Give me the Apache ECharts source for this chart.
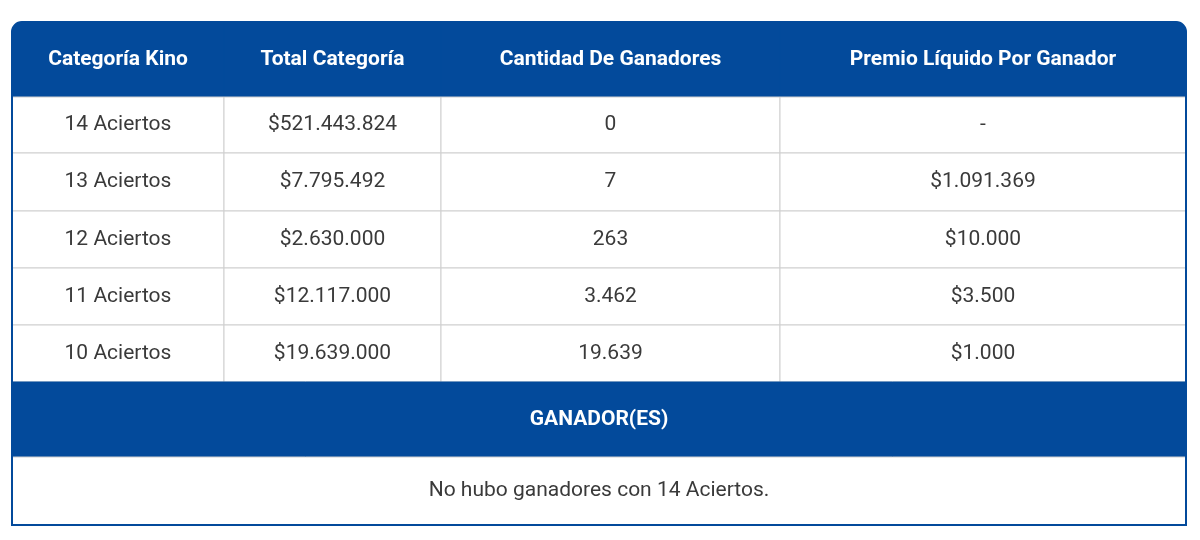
<!DOCTYPE html><html><head><meta charset="utf-8">
<script src="https://cdn.jsdelivr.net/npm/echarts@6/dist/echarts.min.js"></script>
<style>html,body{margin:0;background:#fff}#c{width:1200px;height:540px}</style></head><body><div id="c"></div>
<script>
const headers = ["Categoría Kino","Total Categoría","Cantidad De Ganadores","Premio Líquido Por Ganador"];
const categories = ["14 Aciertos","13 Aciertos","12 Aciertos","11 Aciertos","10 Aciertos"];
const totals = ["$521.443.824","$7.795.492","$2.630.000","$12.117.000","$19.639.000"];
const winners = ["0","7","263","3.462","19.639"];
const prizes = ["-","$1.091.369","$10.000","$3.500","$1.000"];
const sectionTitle = "GANADOR(ES)";
const footerText = "No hubo ganadores con 14 Aciertos.";

// layout (pixel units on hidden value axes)
const colEdges = [0, 212, 429, 768, 1174];
const rowEdges = [0, 75, 131, 189, 246, 303, 360, 435, 503];
const BLUE = "#034a9b", GRID = "#cfcfcf", TXT = "#3a3a3a";

const cells = [];
headers.forEach((h,i)=>cells.push({c0:i,c1:i+1,r:0,t:h,kind:"head"}));
for(let r=0;r<categories.length;r++){
  [categories[r],totals[r],winners[r],prizes[r]].forEach((t,i)=>cells.push({c0:i,c1:i+1,r:r+1,t,kind:"body"}));
}
cells.push({c0:0,c1:4,r:6,t:sectionTitle,kind:"head"});
cells.push({c0:0,c1:4,r:7,t:footerText,kind:"body"});

const chart = echarts.init(document.getElementById('c'));
chart.setOption({
  animation:false,
  grid:{left:12,right:14,top:22,bottom:15},
  xAxis:{type:'value',min:0,max:1174,show:false},
  yAxis:{type:'value',min:0,max:503,inverse:true,show:false},
  series:[{
    type:'custom',
    data:cells.map((d,i)=>[i]),
    renderItem:(params,api)=>{
      const d = cells[api.value(0)];
      const p0 = api.coord([colEdges[d.c0], rowEdges[d.r]]);
      const p1 = api.coord([colEdges[d.c1], rowEdges[d.r+1]]);
      const head = d.kind==="head";
      const r = (d.r===0 && d.c0===0) ? [10,0,0,0] : (d.r===0 && d.c1===4) ? [0,10,0,0] : 0;
      return {type:'group',children:[
        {type:'rect',shape:{x:p0[0],y:p0[1],width:p1[0]-p0[0],height:p1[1]-p0[1],r},
         style:{fill:head?BLUE:'#fff',stroke:head?BLUE:GRID,lineWidth:1}},
        {type:'text',x:(p0[0]+p1[0])/2,y:(p0[1]+p1[1])/2,
         style:{text:d.t,align:'center',verticalAlign:'middle',fill:head?'#fff':TXT,
           font:(head?'bold ':'')+'21px Roboto',}}
      ]};
    }
  },{
    type:'custom',data:[[0]],z:5,
    renderItem:(params,api)=>{
      const a=api.coord([0,0]), b=api.coord([1174,503]);
      return {type:'rect',shape:{x:a[0],y:a[1],width:b[0]-a[0],height:b[1]-a[1],r:[10,10,0,0]},
        style:{fill:null,stroke:BLUE,lineWidth:2}};
    }
  }]
});
</script></body></html>
